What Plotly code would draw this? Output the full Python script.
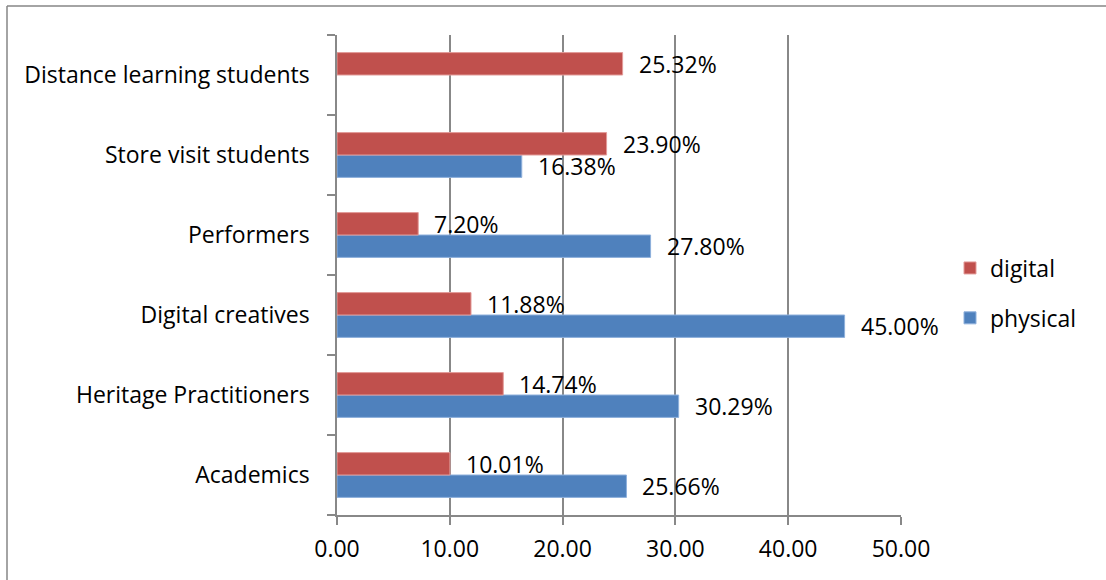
import plotly.graph_objects as go

categories = ["Academics", "Heritage Practitioners", "Digital creatives",
              "Performers", "Store visit students", "Distance learning students"]
digital = [10.01, 14.74, 11.88, 7.20, 23.90, 25.32]
physical = [25.66, 30.29, 45.00, 27.80, 16.38, None]
x_ticks = [0, 10, 20, 30, 40, 50]
x_tick_labels = ["0.00", "10.00", "20.00", "30.00", "40.00", "50.00"]

RED = "#C0504D"
BLUE = "#4F81BD"
GRID = "#888888"
FONT = "Open Sans"
FS = 23

fig = go.Figure()
# physical first so it sits lower within each group; legend lists digital first
fig.add_trace(go.Bar(y=categories, x=physical, orientation="h", name="physical",
                     marker=dict(color=BLUE, line=dict(color="#8EB0DC", width=1)),
                     legendgroup="p", legendrank=2))
fig.add_trace(go.Bar(y=categories, x=digital, orientation="h", name="digital",
                     marker=dict(color=RED, line=dict(color="#E39B99", width=1)),
                     legendgroup="d", legendrank=1))

# value labels beside each bar end
half_bar = 11.2
annotations = []
for cat, v in zip(categories, digital):
    if v is not None:
        annotations.append(dict(x=v, y=cat, xref="x", yref="y", text=f"{v:.2f}%",
                                showarrow=False, xanchor="left", yanchor="middle",
                                xshift=14, yshift=half_bar,
                                font=dict(family=FONT, size=FS, color="black")))
for cat, v in zip(categories, physical):
    if v is not None:
        annotations.append(dict(x=v, y=cat, xref="x", yref="y", text=f"{v:.2f}%",
                                showarrow=False, xanchor="left", yanchor="middle",
                                xshift=14, yshift=-half_bar,
                                font=dict(family=FONT, size=FS, color="black")))

fig.update_layout(
    width=1106, height=580,
    margin=dict(l=337, r=205, t=35, b=65),
    paper_bgcolor="white", plot_bgcolor="white",
    barmode="group", bargap=0.44, bargroupgap=0,
    font=dict(family=FONT, size=FS, color="black"),
    annotations=annotations,
    showlegend=True,
    legend=dict(traceorder="grouped", tracegroupgap=17,
                x=(950 - 337) / 564, xref="paper", xanchor="left",
                y=(515 - 293) / 480, yanchor="middle",
                bgcolor="rgba(0,0,0,0)", font=dict(family=FONT, size=FS)),
    xaxis=dict(range=[0, 50], tickvals=x_ticks, ticktext=x_tick_labels,
               showgrid=True, gridcolor=GRID, gridwidth=1.5,
               showline=True, linecolor=GRID, linewidth=1.5,
               ticks="outside", ticklen=8, tickcolor=GRID, tickwidth=1.5,
               zeroline=False, ticklabelstandoff=5, fixedrange=True),
    yaxis=dict(type="category", categoryorder="array", categoryarray=categories,
               showgrid=False, showline=True, linecolor=GRID, linewidth=1.5,
               ticks="outside", ticklen=8, tickcolor=GRID, tickwidth=1.5,
               tickson="boundaries", ticklabelstandoff=21, fixedrange=True),
    shapes=[
        dict(type="line", xref="paper", yref="paper", x0=-330/564, x1=2, y0=1 + 29/480, y1=1 + 29/480,
             line=dict(color="#868686", width=1.5)),
        dict(type="line", xref="paper", yref="paper", x0=-330/564, x1=-330/564, y0=1 + 29/480, y1=-1,
             line=dict(color="#868686", width=1.5)),
    ],
)

fig.write_html("out.html")
